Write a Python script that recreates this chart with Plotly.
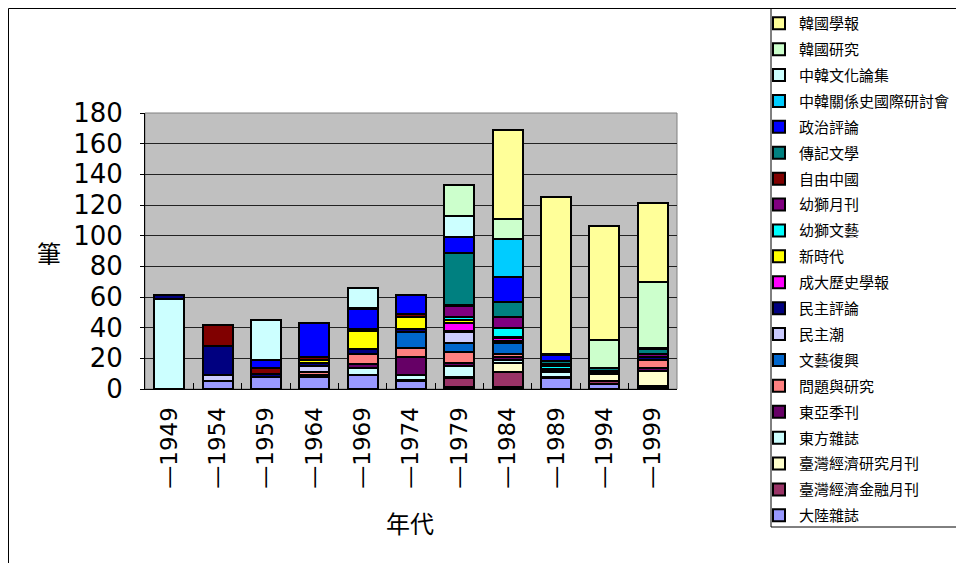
import plotly.graph_objects as go

categories = ["—1949", "—1954", "—1959", "—1964", "—1969", "—1974",
              "—1979", "—1984", "—1989", "—1994", "—1999"]

# series listed bottom of stack -> top of stack
series_names = ["大陸雜誌", "臺灣經濟金融月刊", "臺灣經濟研究月刊", "東方雜誌", "東亞季刊",
                "問題與研究", "文藝復興", "民主潮", "民主評論", "成大歷史學報",
                "新時代", "幼獅文藝", "幼獅月刊", "自由中國", "傳記文學",
                "政治評論", "中韓關係史國際研討會", "中韓文化論集", "韓國研究", "韓國學報"]

大陸雜誌 = [0, 5, 8, 8, 9, 5, 1, 1, 7, 3, 1]
臺灣經濟金融月刊 = [0, 0, 0, 0, 0, 1, 6, 10, 0, 2, 1]
臺灣經濟研究月刊 = [0, 0, 0, 0, 0, 0, 1, 6, 1, 5, 10]
東方雜誌 = [59, 0, 0, 0, 5, 3, 7, 2, 3, 0, 0]
東亞季刊 = [0, 0, 0, 1, 2, 12, 2, 2, 1, 1, 2]
問題與研究 = [0, 0, 0, 2, 7, 6, 7, 2, 0, 0, 5]
文藝復興 = [0, 0, 0, 0, 0, 10, 6, 7, 0, 0, 0]
民主潮 = [0, 4, 0, 4, 0, 0, 7, 1, 0, 0, 0]
民主評論 = [2, 19, 2, 2, 3, 2, 1, 0, 1, 1, 2]
成大歷史學報 = [0, 0, 0, 0, 0, 0, 5, 2, 0, 0, 0]
新時代 = [0, 0, 0, 2, 12, 8, 2, 1, 0, 0, 0]
幼獅文藝 = [0, 0, 0, 0, 0, 0, 2, 6, 2, 0, 0]
幼獅月刊 = [0, 0, 0, 0, 0, 0, 7, 7, 1, 0, 2]
自由中國 = [0, 14, 4, 2, 1, 2, 1, 0, 0, 0, 0]
傳記文學 = [0, 0, 0, 0, 0, 0, 34, 10, 2, 2, 3]
政治評論 = [0, 0, 5, 22, 13, 12, 10, 16, 4, 0, 1]
中韓關係史國際研討會 = [0, 0, 0, 0, 1, 0, 0, 25, 0, 0, 0]
中韓文化論集 = [0, 0, 26, 0, 13, 0, 14, 0, 0, 0, 0]
韓國研究 = [0, 0, 0, 0, 0, 0, 20, 13, 1, 18, 43]
韓國學報 = [0, 0, 0, 0, 0, 0, 0, 58, 102, 74, 51]

series_values = [大陸雜誌, 臺灣經濟金融月刊, 臺灣經濟研究月刊, 東方雜誌, 東亞季刊,
                 問題與研究, 文藝復興, 民主潮, 民主評論, 成大歷史學報,
                 新時代, 幼獅文藝, 幼獅月刊, 自由中國, 傳記文學,
                 政治評論, 中韓關係史國際研討會, 中韓文化論集, 韓國研究, 韓國學報]

colors = ["#9999FF", "#993366", "#FFFFCC", "#CCFFFF", "#660066",
          "#FF8080", "#0066CC", "#CCCCFF", "#000080", "#FF00FF",
          "#FFFF00", "#00FFFF", "#800080", "#800000", "#008080",
          "#0000FF", "#00CCFF", "#CCFFFF", "#CCFFCC", "#FFFF99"]

CJK = "Noto Sans CJK TC"
NUM = "DejaVu Sans, Noto Sans CJK TC"

fig = go.Figure()
n = len(series_names)
for i, (name, vals, col) in enumerate(zip(series_names, series_values, colors)):
    fig.add_trace(go.Bar(
        x=categories,
        y=[v if v else None for v in vals],
        name=name,
        legendgroup=name,
        legendrank=1000 + (n - i),
        marker=dict(color=col, line=dict(color="black", width=2)),
    ))

# page body has an 8px margin: screen coords -> figure coords
OFF = 8
FW, FH = 964, 563
L, R, T, B = 145 - OFF, 677 - OFF, 113 - OFF, 389 - OFF
W, H = R - L, B - T
def px(sx):
    return (sx - OFF - L) / W
def py(sy):
    return (B - (sy - OFF)) / H
def fx(fxp):
    return (fxp - L) / W
def fy(fyp):
    return (B - fyp) / H

fig.update_layout(
    width=FW, height=FH,
    margin=dict(l=L, r=FW - R, t=T, b=FH - B, autoexpand=False),
    barmode="stack",
    bargap=0.38,
    paper_bgcolor="white",
    plot_bgcolor="#C0C0C0",
    font=dict(family=NUM, color="black"),
    showlegend=True,
    legend=dict(
        x=px(759), y=py(7), xanchor="left", yanchor="top",
        traceorder="grouped", tracegroupgap=3.4,
        bgcolor="rgba(0,0,0,0)", bordercolor="rgba(0,0,0,0)", borderwidth=0,
        font=dict(family=CJK, size=15, color="black"),
        maxheight=600,
        itemclick=False, itemdoubleclick=False,
    ),
    xaxis=dict(
        type="category",
        tickangle=-90,
        tickfont=dict(family=NUM, size=23),
        showline=True, linecolor="black", linewidth=1,
        ticks="inside", ticklen=6, tickcolor="black",
        tickson="boundaries",
        ticklabelstandoff=8,
        showgrid=False,
    ),
    yaxis=dict(
        range=[0, 180], dtick=20,
        tickfont=dict(family=NUM, size=26),
        showline=True, linecolor="black", linewidth=1,
        ticks="outside", ticklen=4, tickcolor="black",
        ticklabelstandoff=12,
        showgrid=True, gridcolor="#222222", gridwidth=1,
        zeroline=False,
    ),
    shapes=[
        # plot-area frame
        dict(type="rect", xref="paper", yref="paper", x0=0, x1=1, y0=0, y1=1,
             line=dict(color="#808080", width=1), fillcolor="rgba(0,0,0,0)", layer="below"),
        # chart-area border
        dict(type="rect", xref="paper", yref="paper",
             x0=fx(0.5), x1=fx(2000), y0=fy(0.5), y1=fy(2000),
             line=dict(color="black", width=1), fillcolor="rgba(0,0,0,0)"),
        # legend box
        dict(type="rect", xref="paper", yref="paper",
             x0=px(771), x1=px(963), y0=fy(0.5), y1=py(527),
             line=dict(color="black", width=1), fillcolor="rgba(0,0,0,0)"),
    ],
    annotations=[
        dict(text="筆", xref="paper", yref="paper", x=px(49), y=py(252),
             xanchor="center", yanchor="middle",
             showarrow=False, font=dict(family=CJK, size=24)),
        dict(text="年代", xref="paper", yref="paper", x=px(410), y=py(522),
             xanchor="center", yanchor="middle",
             showarrow=False, font=dict(family=CJK, size=24)),
    ],
)

fig.write_html("out.html")
